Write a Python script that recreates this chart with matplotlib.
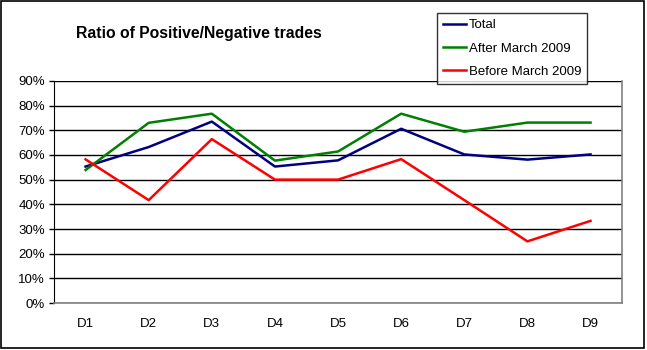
import matplotlib.pyplot as plt
from matplotlib.patches import Rectangle
from matplotlib.ticker import PercentFormatter

plt.rcParams['font.family'] = ['Liberation Sans', 'DejaVu Sans']

# Data for the chart
categories = ['D1', 'D2', 'D3', 'D4', 'D5', 'D6', 'D7', 'D8', 'D9']
total = [55.3, 63.2, 73.5, 55.3, 57.8, 70.6, 60.2, 58.1, 60.2]
after = [53.9, 73.0, 76.7, 57.7, 61.4, 76.7, 69.4, 73.1, 73.1]
before = [58.2, 41.7, 66.4, 50.0, 50.0, 58.3, 41.7, 25.0, 33.3]

fig = plt.figure(figsize=(6.47, 3.5), dpi=100)
ax = fig.add_axes([0.0835, 0.134, 0.878, 0.635])

x = range(len(categories))
ax.plot(x, total, color='#000080', lw=1.8, label='Total')
ax.plot(x, after, color='#008000', lw=1.8, label='After March 2009')
ax.plot(x, before, color='#ff0000', lw=1.8, label='Before March 2009')

ax.set_xlim(-0.5, len(categories) - 0.5)
ax.set_ylim(0, 90)
ax.set_yticks(range(0, 91, 10))
ax.yaxis.set_major_formatter(PercentFormatter(decimals=0))
ax.set_xticks(list(x))
ax.set_xticklabels(categories)
ax.tick_params(axis='x', length=0, pad=11, labelsize=9.5)
ax.tick_params(axis='y', length=3.6, width=1, color='black', labelsize=9.5, pad=3)

# gridlines
ax.grid(axis='y', color='black', lw=1)
ax.set_axisbelow(True)
ax.spines['top'].set_visible(False)
ax.spines['left'].set_color('black')
ax.spines['right'].set_color('#808080')
ax.spines['bottom'].set_color('#808080')
ax.spines['bottom'].set_linewidth(1.2)
ax.spines['right'].set_linewidth(1.2)

fig.text(0.117, 0.905, 'Ratio of Positive/Negative trades', fontsize=11.3,
         fontweight='bold', va='center')

leg = fig.legend(loc='upper left', bbox_to_anchor=(0.675, 0.963),
                 fontsize=9.5, frameon=True, fancybox=False, handlelength=1.8,
                 handletextpad=0.2, borderpad=0.45, labelspacing=0.85,
                 borderaxespad=0)
leg.get_frame().set_edgecolor('black')
leg.get_frame().set_linewidth(1)

# outer chart border
fig.patches.append(Rectangle((0.002, 0.006), 0.994, 0.992, transform=fig.transFigure,
                             fill=False, edgecolor='black', lw=1.2))

fig.savefig('out.png', dpi=100)
